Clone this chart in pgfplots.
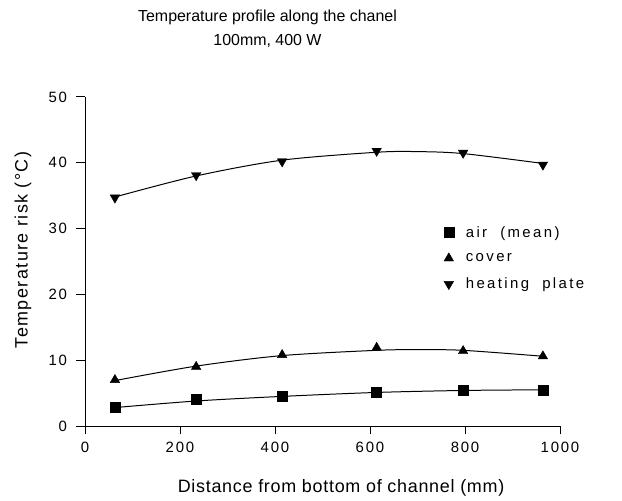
\documentclass[border=0pt]{standalone}
\usepackage{pgfplots}
\pgfplotsset{compat=1.18}
\usepackage{fontspec}
\setmainfont{Liberation Sans}
\begin{document}
\begin{tikzpicture}[x=1bp,y=1bp]
\useasboundingbox (-85,-75) rectangle (537,426);
\begin{axis}[
  at={(0,0)}, anchor=south west,
  scale only axis, width=475bp, height=329bp,
  xmin=0, xmax=1000, ymin=0, ymax=50,
  axis x line*=bottom, axis y line*=left,
  axis line style={line width=1pt},
  xtick={0,200,...,1000}, ytick={0,10,...,50},
  tick align=outside, tick style={line width=1pt, black},
  major tick length=8.5bp,
  /pgf/number format/1000 sep={},
  /pgf/number format/assume math mode=true,
  tick label style={font=\fontsize{15}{18}\selectfont\addfontfeatures{LetterSpace=12}},
  xticklabel style={yshift=-4bp},
  yticklabel style={xshift=-6bp},
  xlabel={Distance from bottom of channel (mm)},
  xlabel style={font=\fontsize{18}{21}\selectfont\addfontfeatures{LetterSpace=4}, anchor=base, at={(axis description cs:0.539,-0.2036)}},
  ylabel={Temperature risk (°C)},
  ylabel style={font=\fontsize{18}{21}\selectfont\addfontfeatures{LetterSpace=8}, anchor=center, at={(axis description cs:-0.1305,0.535)}},
  title={Temperature profile along the chanel\\100mm, 400 W},
  title style={font=\fontsize{16}{24}\selectfont, align=center, anchor=base, at={(0.5,1)}, yshift=46bp, xshift=-55bp},
  legend style={draw=none, fill=none, at={(axis cs:755,30.7)}, anchor=north west, font=\fontsize{15}{17}\selectfont\addfontfeatures{LetterSpace=16}, row sep=11bp, inner sep=0pt, /tikz/every odd column/.append style={column sep=10bp}},
  legend cell align=left,
  clip=false,
]
\addplot[only marks, mark=square*, mark size=5bp, black] coordinates {(63,2.8)(234,4.0)(415,4.5)(614,5.1)(796,5.5)(964,5.5)};
\addlegendentry{air\ \ (mean)}
\addplot[only marks, mark=triangle*, mark size=5.5bp, black] coordinates {(63,7.0)(234,9.0)(415,10.8)(614,11.9)(796,11.4)(964,10.6)};
\addlegendentry{cover}
\addplot[only marks, mark=triangle*, mark options={rotate=180}, mark size=5.5bp, black] coordinates {(63,34.7)(234,38.1)(415,40.2)(614,41.8)(796,41.5)(964,39.7)};
\addlegendentry{heating\ \ plate}
\addplot[smooth, black, line width=1pt, forget plot] coordinates {(63,2.8)(234,3.8)(415,4.5)(614,5.1)(796,5.4)(964,5.5)};
\addplot[smooth, black, line width=1pt, forget plot] coordinates {(63,6.9)(234,9.1)(415,10.7)(614,11.5)(700,11.6)(796,11.5)(964,10.6)};
\addplot[smooth, black, line width=1pt, forget plot] coordinates {(63,34.8)(234,38.0)(415,40.4)(614,41.6)(700,41.7)(796,41.4)(964,39.9)};
\end{axis}
\end{tikzpicture}
\end{document}
